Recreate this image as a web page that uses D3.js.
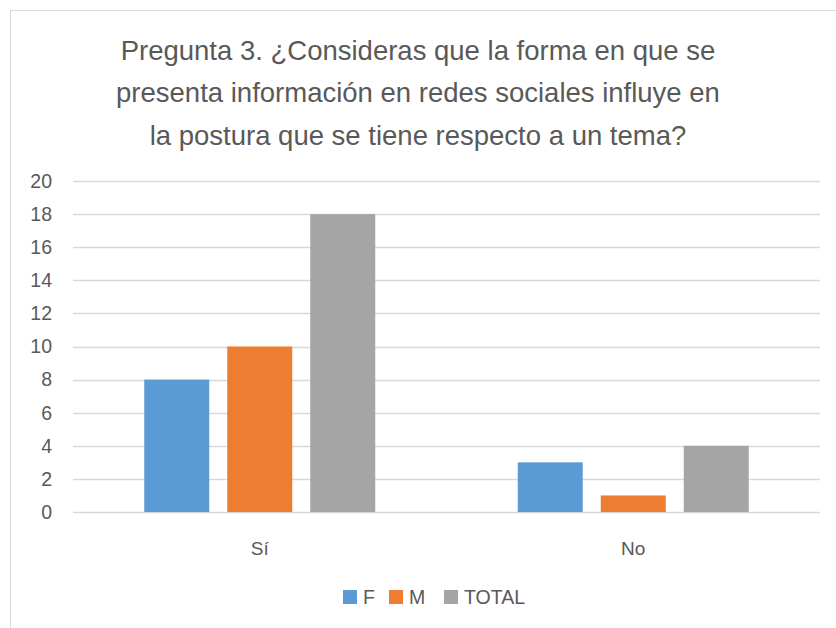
<!DOCTYPE html>
<html>
<head>
<meta charset="utf-8">
<script src="https://cdn.jsdelivr.net/npm/d3@7"></script>
<style>
  body { margin: 0; background: #fff; }
  text { font-family: "Liberation Sans", Arial, sans-serif; fill: #595959; }
</style>
</head>
<body>
<div id="chart"></div>
<script>
const categories = ["Sí", "No"];
const seriesNames = ["F", "M", "TOTAL"];
const valuesF = [8, 3];
const valuesM = [10, 1];
const valuesTotal = [18, 4];
const yTicks = [0, 2, 4, 6, 8, 10, 12, 14, 16, 18, 20];
const titleLines = [
  "Pregunta 3. ¿Consideras que la forma en que se",
  "presenta información en redes sociales influye en",
  "la postura que se tiene respecto a un tema?"
];

const colors = ["#5b9bd5", "#ed7d31", "#a5a5a5"];
const series = [valuesF, valuesM, valuesTotal];

const width = 836, height = 628;
const margin = { top: 181, right: 16, bottom: 116, left: 73 };

const svg = d3.select("#chart")
  .append("svg")
  .attr("width", width)
  .attr("height", height);

// chart frame
svg.append("rect")
  .attr("x", 10.5).attr("y", 10.5)
  .attr("width", width + 10).attr("height", height + 10)
  .attr("fill", "#fff")
  .attr("stroke", "#d9d9d9");

const x0 = d3.scaleBand()
  .domain(categories)
  .range([margin.left, width - margin.right]);

const x1 = d3.scaleBand()
  .domain(seriesNames)
  .range([0, 231])
  .paddingInner(0.217);

const y = d3.scaleLinear()
  .domain([0, 20])
  .range([height - margin.bottom, margin.top]);

// gridlines
svg.append("g")
  .selectAll("line")
  .data(yTicks)
  .enter()
  .append("line")
  .attr("x1", margin.left)
  .attr("x2", width - margin.right)
  .attr("y1", d => Math.round(y(d)) + 0.5)
  .attr("y2", d => Math.round(y(d)) + 0.5)
  .attr("stroke", "#d9d9d9")
  .attr("stroke-width", 1.3);

// y labels
svg.append("g")
  .selectAll("text")
  .data(yTicks)
  .enter()
  .append("text")
  .attr("x", 52)
  .attr("y", d => y(d))
  .attr("dy", "0.35em")
  .attr("text-anchor", "end")
  .style("font-size", "19.5px")
  .text(d => d);

// bars
categories.forEach((cat, ci) => {
  const gx = x0(cat) + (x0.bandwidth() - 231) / 2;
  seriesNames.forEach((name, si) => {
    const v = series[si][ci];
    svg.append("rect")
      .attr("x", gx + x1(name))
      .attr("y", y(v))
      .attr("width", x1.bandwidth())
      .attr("height", y(0) - y(v))
      .attr("fill", colors[si]);
  });
});

// category labels
svg.append("g")
  .selectAll("text")
  .data(categories)
  .enter()
  .append("text")
  .attr("x", d => x0(d) + x0.bandwidth() / 2)
  .attr("y", 548)
  .attr("dy", "0.35em")
  .attr("text-anchor", "middle")
  .style("font-size", "19px")
  .text(d => d);

// title
svg.append("g")
  .selectAll("text")
  .data(titleLines)
  .enter()
  .append("text")
  .attr("x", 418)
  .attr("y", (d, i) => 50 + i * 42.5)
  .attr("dy", "0.35em")
  .attr("text-anchor", "middle")
  .style("font-size", "27.5px")
  .text(d => d);

// legend
const legendX = [343, 389, 444];
const legend = svg.append("g")
  .selectAll("g")
  .data(seriesNames)
  .enter()
  .append("g")
  .attr("transform", (d, i) => `translate(${legendX[i]}, 597)`);

legend.append("rect")
  .attr("x", 0).attr("y", -7)
  .attr("width", 14).attr("height", 14)
  .attr("fill", (d, i) => colors[i]);

legend.append("text")
  .attr("x", 20)
  .attr("dy", "0.35em")
  .style("font-size", "19.5px")
  .text(d => d);
</script>
</body>
</html>
